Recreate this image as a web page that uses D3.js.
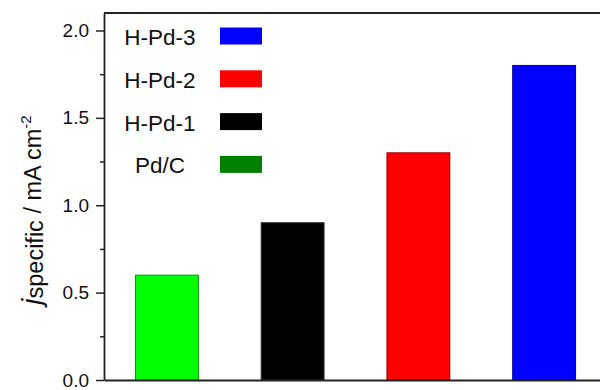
<!DOCTYPE html>
<html>
<head>
<meta charset="utf-8">
<script src="https://cdn.jsdelivr.net/npm/d3@7"></script>
<style>
  body { margin: 0; background: #fff; }
  svg { display: block; font-family: Arial, "Liberation Sans", sans-serif; }
</style>
</head>
<body>
<div id="chart"></div>
<script>
// Data
const categories = ["Pd/C", "H-Pd-1", "H-Pd-2", "H-Pd-3"];
const values = [0.6, 0.9, 1.3, 1.8];
const barColors = ["#00ff00", "#000000", "#ff0000", "#0000ff"];

const legendLabels = ["H-Pd-3", "H-Pd-2", "H-Pd-1", "Pd/C"];
const legendColors = ["#0000ff", "#ff0000", "#000000", "#008000"];

const majorTicks = [0, 0.5, 1.0, 1.5, 2.0];
const minorTicks = [0.25, 0.75, 1.25, 1.75];

const width = 600, height = 390;
const margin = { top: 13, right: -7, bottom: 10, left: 104 };
const plotW = width - margin.left - margin.right;
const plotH = height - margin.top - margin.bottom;

const svg = d3.select("#chart").append("svg")
    .attr("width", width)
    .attr("height", height);

const chart = svg.append("g")
    .attr("transform", `translate(${margin.left},${margin.top})`);

const x = d3.scaleBand()
    .domain(categories)
    .range([0, plotW])
    .paddingInner(0.5)
    .paddingOuter(0.25);

const y = d3.scaleLinear()
    .domain([0, 2.1])
    .range([plotH, 0]);

// bars
chart.selectAll(".bar")
    .data(values)
    .enter().append("rect")
    .attr("class", "bar")
    .attr("x", (d, i) => x(categories[i]))
    .attr("width", x.bandwidth())
    .attr("y", d => y(d))
    .attr("height", d => plotH - y(d))
    .attr("fill", (d, i) => barColors[i])
    .attr("stroke", (d, i) => i === 1 ? "#333" : d3.color(barColors[i]).darker(1.5))
    .attr("stroke-width", 1);

// frame: top line and bottom axis line
chart.append("line")
    .attr("x1", 0).attr("x2", plotW)
    .attr("y1", 0).attr("y2", 0)
    .attr("stroke", "#222")
    .attr("stroke-width", 1.8);

chart.append("g")
    .attr("transform", `translate(0,${plotH})`)
    .call(d3.axisBottom(x).tickSize(0).tickFormat(""))
    .call(g => g.select(".domain").attr("stroke", "#222").attr("stroke-width", 1.8));

// y axis
const yAxis = chart.append("g")
    .call(d3.axisLeft(y)
        .tickValues(majorTicks)
        .tickFormat(d3.format(".1f"))
        .tickSize(8)
        .tickSizeOuter(0)
        .tickPadding(7));

yAxis.select(".domain").attr("stroke", "#222").attr("stroke-width", 1.8);
yAxis.selectAll(".tick line").attr("stroke", "#222").attr("stroke-width", 1.5);
yAxis.selectAll(".tick text")
    .style("font-size", "19px")
    .attr("fill", "#111");

chart.append("g")
    .call(d3.axisLeft(y).tickValues(minorTicks).tickFormat("").tickSize(4).tickSizeOuter(0))
    .call(g => g.select(".domain").remove())
    .call(g => g.selectAll(".tick line").attr("stroke", "#222").attr("stroke-width", 1.5));

// y label
const label = svg.append("text")
    .attr("transform", "translate(41,210) rotate(-90)")
    .attr("text-anchor", "middle")
    .attr("fill", "#111")
    .style("font-size", "23.5px");
label.append("tspan").attr("font-style", "italic").style("font-size", "27.5px").text("j");
label.append("tspan").attr("dy", 2).text("specific");
label.append("tspan").attr("dy", -2).text(" / mA cm");
label.append("tspan").attr("dy", -10).style("font-size", "15px").text("-2");

// legend
const legend = chart.selectAll(".legend")
    .data(legendLabels)
    .enter().append("g")
    .attr("class", "legend")
    .attr("transform", (d, i) => `translate(0,${23 + i * 42.8})`);

legend.append("text")
    .attr("x", 56)
    .attr("y", 9)
    .attr("text-anchor", "middle")
    .style("font-size", "22.5px")
    .attr("fill", "#111")
    .text(d => d);

legend.append("rect")
    .attr("x", 116)
    .attr("y", -8.5)
    .attr("width", 42)
    .attr("height", 17)
    .attr("fill", (d, i) => legendColors[i]);
</script>
</body>
</html>
